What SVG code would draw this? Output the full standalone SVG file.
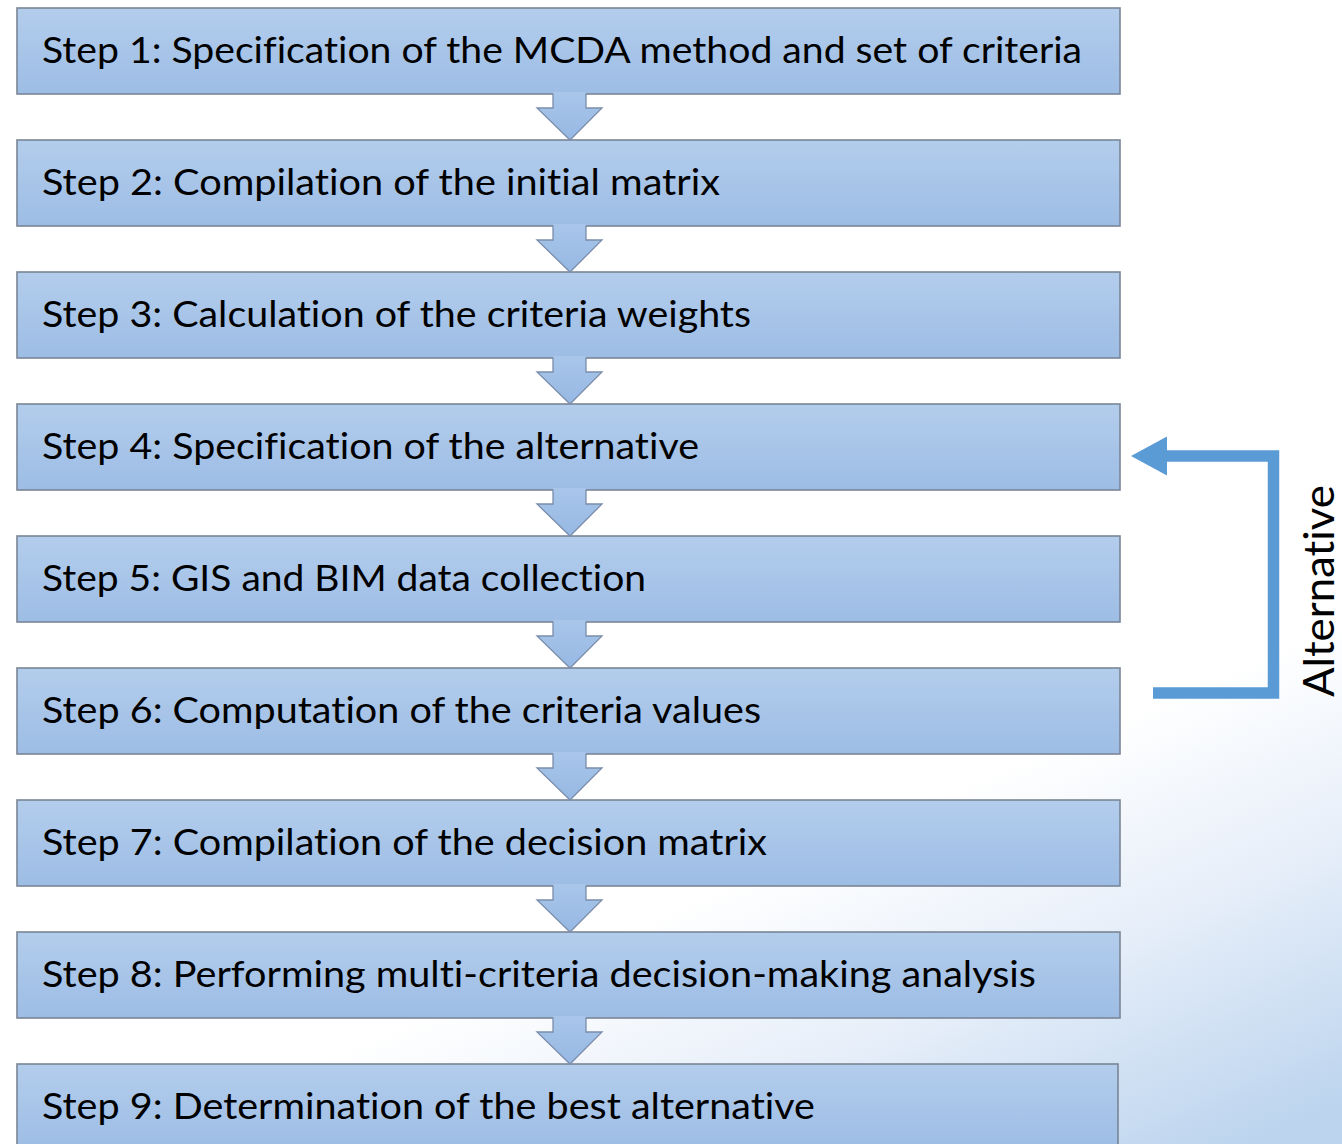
<svg xmlns="http://www.w3.org/2000/svg" width="1342" height="1144" viewBox="0 0 1342 1144">
  <defs>
    <linearGradient id="bg" gradientUnits="userSpaceOnUse" x1="1000" y1="560" x2="1250" y2="1144">
      <stop offset="0" stop-color="#ffffff"/>
      <stop offset="0.3" stop-color="#ffffff"/>
      <stop offset="0.62" stop-color="#e6eef9"/>
      <stop offset="1" stop-color="#bcd4ee"/>
    </linearGradient>
    <linearGradient id="boxFill" x1="0" y1="0" x2="0" y2="1">
      <stop offset="0" stop-color="#b3cdec"/>
      <stop offset="1" stop-color="#9dbde5"/>
    </linearGradient>
    <linearGradient id="arrowFill" x1="0" y1="0" x2="0" y2="1">
      <stop offset="0" stop-color="#a9c6ea"/>
      <stop offset="1" stop-color="#96b8e3"/>
    </linearGradient>
    <!-- block arrow between consecutive steps -->
    <g id="down">
      <path d="M553,92 L586,92 L586,108 L602,108 L570,140 L537,108 L553,108 Z" fill="url(#arrowFill)"/>
      <path d="M553,93.5 L553,108 L537,108 L570,140 L602,108 L586,108 L586,93.5" fill="none" stroke="#7b8dab" stroke-width="1.3" stroke-linejoin="miter"/>
    </g>
  </defs>
  <style>
    .box { fill: url(#boxFill); stroke: #7a8596; stroke-width: 1.6; }
    .label { font-family: Lato, "Open Sans", sans-serif; font-size: 36px; fill: #000000; font-variant-ligatures: none; }
    .side { font-family: Lato, "Open Sans", sans-serif; font-size: 42px; fill: #000000; font-variant-ligatures: none; }
    .loop { fill: none; stroke: #5b9bd5; stroke-width: 11.5; stroke-linejoin: miter; }
    .loophead { fill: #5b9bd5; }
  </style>

  <rect width="1342" height="1144" fill="url(#bg)"/>

  <g id="step1"><rect class="box" x="17" y="8" width="1103" height="86"/>
    <text class="label" x="42" y="62.5" textLength="1040" lengthAdjust="spacingAndGlyphs">Step 1: Specification of the MCDA method and set of criteria</text></g>
  <g id="step2"><rect class="box" x="17" y="140" width="1103" height="86"/>
    <text class="label" x="42" y="194.5" textLength="678" lengthAdjust="spacingAndGlyphs">Step 2: Compilation of the initial matrix</text></g>
  <g id="step3"><rect class="box" x="17" y="272" width="1103" height="86"/>
    <text class="label" x="42" y="326.5" textLength="709" lengthAdjust="spacingAndGlyphs">Step 3: Calculation of the criteria weights</text></g>
  <g id="step4"><rect class="box" x="17" y="404" width="1103" height="86"/>
    <text class="label" x="42" y="458.5" textLength="657" lengthAdjust="spacingAndGlyphs">Step 4: Specification of the alternative</text></g>
  <g id="step5"><rect class="box" x="17" y="536" width="1103" height="86"/>
    <text class="label" x="42" y="590.5" textLength="604" lengthAdjust="spacingAndGlyphs">Step 5: GIS and BIM data collection</text></g>
  <g id="step6"><rect class="box" x="17" y="668" width="1103" height="86"/>
    <text class="label" x="42" y="722.5" textLength="719" lengthAdjust="spacingAndGlyphs">Step 6: Computation of the criteria values</text></g>
  <g id="step7"><rect class="box" x="17" y="800" width="1103" height="86"/>
    <text class="label" x="42" y="854.5" textLength="725" lengthAdjust="spacingAndGlyphs">Step 7: Compilation of the decision matrix</text></g>
  <g id="step8"><rect class="box" x="17" y="932" width="1103" height="86"/>
    <text class="label" x="42" y="986.5" textLength="994" lengthAdjust="spacingAndGlyphs">Step 8: Performing multi-criteria decision-making analysis</text></g>
  <g id="step9"><rect class="box" x="17" y="1064" width="1101" height="86"/>
    <text class="label" x="42" y="1118.5" textLength="773" lengthAdjust="spacingAndGlyphs">Step 9: Determination of the best alternative</text></g>

  <g id="connectors">
    <use href="#down"/>
    <use href="#down" transform="translate(0,132)"/>
    <use href="#down" transform="translate(0,264)"/>
    <use href="#down" transform="translate(0,396)"/>
    <use href="#down" transform="translate(0,528)"/>
    <use href="#down" transform="translate(0,660)"/>
    <use href="#down" transform="translate(0,792)"/>
    <use href="#down" transform="translate(0,924)"/>
    <!-- feedback loop from step 6 back to step 4 -->
    <polyline class="loop" points="1153,693 1273.5,693 1273.5,456 1165,456"/>
    <polygon class="loophead" points="1131,456 1167,436.5 1167,475.5"/>
  </g>

  <g id="loop-label">
    <text class="side" transform="translate(1334,591) rotate(-90)" x="0" y="0" text-anchor="middle" textLength="212" lengthAdjust="spacingAndGlyphs">Alternative</text>
  </g>
</svg>
